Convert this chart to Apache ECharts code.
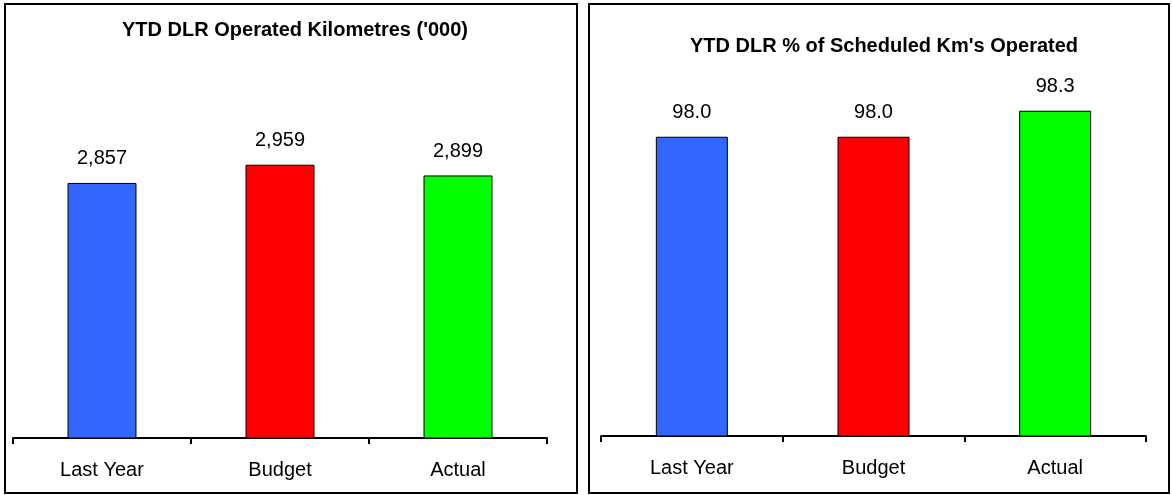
<!DOCTYPE html>
<html>
<head>
<meta charset="utf-8">
<script src="https://cdn.jsdelivr.net/npm/echarts@6/dist/echarts.min.js"></script>
<style>
html,body{margin:0;padding:0;background:#fff;}
#chart{width:1172px;height:495px;}
</style>
</head>
<body>
<div id="chart"></div>
<script>
var categories = ['Last Year', 'Budget', 'Actual'];
var kmValues = [2857, 2959, 2899];
var pctValues = [98.0, 98.0, 98.3];
var barColors = ['#3366FF', '#FF0000', '#00FF00'];
var leftTitle = "YTD DLR Operated Kilometres ('000)";
var rightTitle = "YTD DLR % of Scheduled Km's Operated";

var FONT = '"Liberation Sans", Arial, sans-serif';

function mkData(vals) {
  return vals.map(function (v, i) {
    return { value: v, itemStyle: { color: barColors[i] } };
  });
}

var chart = echarts.init(document.getElementById('chart'), null, { renderer: 'canvas' });

var xAxisCommon = {
  type: 'category',
  data: categories,
  boundaryGap: true,
  axisLine: { show: true, lineStyle: { color: '#000', width: 2 } },
  axisTick: { show: true, alignWithLabel: false, length: 6, lineStyle: { color: '#000', width: 2 } },
  axisLabel: { color: '#000', fontSize: 20, fontFamily: FONT, margin: 22 },
  splitLine: { show: false }
};

var yAxisCommon = {
  type: 'value',
  show: false,
  splitLine: { show: false }
};

var labelCommon = {
  show: true,
  position: 'top',
  distance: 14,
  color: '#000',
  fontSize: 20,
  fontFamily: FONT
};

var option = {
  backgroundColor: '#fff',
  animation: false,
  title: [
    { text: leftTitle, left: 290, top: 15, textAlign: 'center',
      textStyle: { fontSize: 20, fontWeight: 'bold', color: '#000', fontFamily: FONT } },
    { text: rightTitle, left: 879, top: 31, textAlign: 'center',
      textStyle: { fontSize: 20, fontWeight: 'bold', color: '#000', fontFamily: FONT } }
  ],
  graphic: [
    { type: 'rect', shape: { x: 5, y: 4, width: 572, height: 489 },
      style: { fill: 'none', stroke: '#000', lineWidth: 2 } },
    { type: 'rect', shape: { x: 589, y: 4, width: 580, height: 489 },
      style: { fill: 'none', stroke: '#000', lineWidth: 2 } }
  ],
  grid: [
    { left: 13, top: 60, width: 534, height: 378 },
    { left: 601, top: 50, width: 545, height: 386 }
  ],
  xAxis: [
    Object.assign({ gridIndex: 0 }, xAxisCommon),
    Object.assign({ gridIndex: 1 }, xAxisCommon)
  ],
  yAxis: [
    Object.assign({ gridIndex: 0, min: 1430, max: 3545 }, yAxisCommon),
    Object.assign({ gridIndex: 1, min: 94.55, max: 99.0 }, yAxisCommon)
  ],
  series: [
    {
      type: 'bar', xAxisIndex: 0, yAxisIndex: 0,
      data: mkData(kmValues),
      barWidth: 69,
      itemStyle: { borderColor: '#000', borderWidth: 1 },
      label: Object.assign({}, labelCommon, {
        formatter: function (p) { return p.value.toLocaleString('en-US'); }
      })
    },
    {
      type: 'bar', xAxisIndex: 1, yAxisIndex: 1,
      data: mkData(pctValues),
      barWidth: 72,
      itemStyle: { borderColor: '#000', borderWidth: 1 },
      label: Object.assign({}, labelCommon, {
        formatter: function (p) { return p.value.toFixed(1); }
      })
    }
  ]
};

chart.setOption(option);
</script>
</body>
</html>
